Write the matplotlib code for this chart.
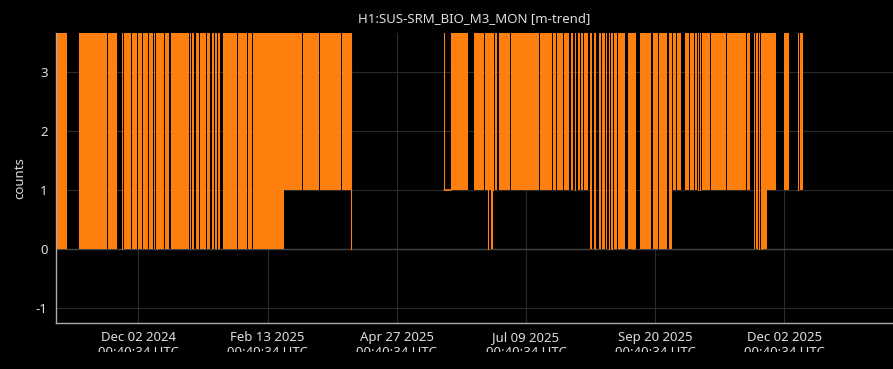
import numpy as np
import matplotlib
matplotlib.use("Agg")
import matplotlib.pyplot as plt
from matplotlib.transforms import Bbox, TransformedBbox
from datetime import datetime, timedelta

plt.rcParams['font.family'] = ['Noto Sans', 'DejaVu Sans']
plt.rcParams['axes.unicode_minus'] = False

# minute-trend segments: days since t0, min value, max value (gaps = no data)
t0 = datetime(2024, 10, 17)
seg_start = [0.1, 12.5, 28.9, 36.6, 37.7, 42.4, 45.8, 48.8, 51.9, 54.7, 56.0, 57.0,
             61.1, 64.5, 75.2, 76.5, 78.6, 80.9, 84.8, 87.5, 89.5, 91.2, 94.0, 102.3,
             108.1, 110.8, 128.3, 139.0, 148.6, 161.3, 166.2, 218.7, 219.3, 222.7,
             235.7, 241.9, 243.6, 244.1, 245.1, 246.4, 247.5, 249.8, 256.6, 273.1,
             280.5, 282.6, 286.3, 290.3, 292.6, 294.3, 296.3, 298.0, 301.2, 303.5,
             306.3, 308.1, 310.2, 311.8, 313.1, 314.9, 316.8, 322.8, 325.1, 326.2,
             329.5, 337.0, 340.2, 345.8, 348.3, 350.3, 354.9, 357.9, 360.7, 362.1,
             363.2, 364.5, 369.6, 378.4, 389.7, 393.9, 395.2, 396.5, 397.8, 399.1,
             401.0, 410.8, 418.7, 419.8]
seg_end = [5.7, 28.1, 34.0, 37.0, 41.7, 45.1, 48.1, 51.3, 54.3, 55.6, 56.6, 60.3,
           63.2, 74.5, 75.9, 77.5, 80.1, 84.1, 86.7, 88.9, 90.6, 92.3, 101.6, 107.4,
           110.1, 128.3, 138.3, 148.1, 160.7, 166.2, 166.6, 219.3, 222.7, 232.1,
           241.3, 243.6, 244.1, 245.1, 246.4, 246.9, 248.8, 255.8, 272.4, 279.9,
           282.0, 285.8, 289.2, 291.8, 293.1, 295.6, 297.3, 300.2, 302.5, 304.0,
           307.4, 309.7, 311.0, 312.5, 313.8, 316.3, 321.0, 324.8, 325.7, 327.2,
           335.7, 339.5, 344.9, 347.5, 349.8, 352.4, 357.3, 360.1, 361.5, 362.6,
           363.9, 369.2, 377.9, 389.2, 391.6, 394.6, 396.0, 397.2, 398.5, 401.0,
           406.3, 413.6, 419.2, 421.4]
seg_min = [0] * 26 + [1, 1, 1, 1, 0, 1, 1, 1,
                      1, 1, 0, 1, 0, 1, 1, 1, 1, 1,
                      1, 1, 1, 1, 1, 1, 1, 1, 0, 0,
                      0, 0, 0, 0, 0, 0, 0, 0, 0, 0,
                      0, 0, 0, 0, 1, 1, 1, 1, 1, 1,
                      1, 1, 1, 1, 1, 0, 0, 0, 0, 0,
                      1, 1, 1, 1]
seg_max = [4.0] * len(seg_start)
seg_max[32] = 1.0

tick_start = datetime(2024, 12, 2, 0, 40, 34)
tick_step_days = 73

# build one stepped band, NaN where there is no data
xs, lo, hi = [], [], []
prev_end = None
for s, e, a, b in zip(seg_start, seg_end, seg_min, seg_max):
   if prev_end is not None and s > prev_end:
      xs.append(t0 + timedelta(days=prev_end))
      lo.append(np.nan)
      hi.append(np.nan)
   xs += [t0 + timedelta(days=s), t0 + timedelta(days=e)]
   lo += [a, a]
   hi += [b, b]
   prev_end = e

color = '#ff7f0e'
fig = plt.figure(figsize=[8.93, 3.69], dpi=100, facecolor='black')
ax = fig.add_axes([56 / 893, 1 - 323 / 369, 1 - 56 / 893, (323 - 33) / 369])
ax.set_facecolor('black')

ax.fill_between(xs, lo, hi, color=color, linewidth=0, antialiased=False, zorder=2)
# narrow stretches (under a pixel) and the flat one where min == max
for s, e, a, b in zip(seg_start, seg_end, seg_min, seg_max):
   if e - s < 0.7:
      mid = t0 + timedelta(days=(s + e) / 2)
      ax.plot([mid, mid], [a, b], color=color, linewidth=0.8, zorder=3)
i = 32
ax.plot([t0 + timedelta(days=seg_start[i]), t0 + timedelta(days=seg_end[i])],
        [seg_min[i], seg_max[i]], color=color, linewidth=1.2, zorder=3)

ax.set_ylim(-1.25, 3.66)
ax.set_xlim(t0 - timedelta(days=0.5), t0 + timedelta(days=472.4))
ax.set_yticks([-1, 0, 1, 2, 3])
ticks = [tick_start + timedelta(days=tick_step_days * k) for k in range(6)]
ax.set_xticks(ticks)
ax.set_xticklabels([t.strftime('%b %d %Y') + '\n' + t.strftime('%H:%M:%S') + ' UTC'
                    for t in ticks])

ax.set_axisbelow(True)
ax.grid(True, color='#2a2a2a', linewidth=0.8, zorder=0)
ax.axhline(0, color='#444444', linewidth=1.0, zorder=1)
for side in ['top', 'right']:
   ax.spines[side].set_visible(False)
for side in ['left', 'bottom']:
   ax.spines[side].set_color('#aaaaaa')
   ax.spines[side].set_linewidth(1.0)
ax.tick_params(colors='#dddddd', length=0, labelsize=9.5)
ax.tick_params(axis='x', pad=6)
ax.tick_params(axis='y', pad=6)
ax.set_ylabel('counts', color='#dddddd', fontsize=9.5, labelpad=7)
ax.set_title('H1:SUS-SRM_BIO_M3_MON [m-trend]', color='#dddddd', fontsize=9.5, pad=8)

clip = TransformedBbox(Bbox([[0, 17 / 369], [1, 1]]), fig.transFigure)
for lbl in ax.get_xticklabels():
   lbl.set_clip_box(clip)
   lbl.set_clip_on(True)

fig.savefig('out.png', dpi=100, facecolor='black')
